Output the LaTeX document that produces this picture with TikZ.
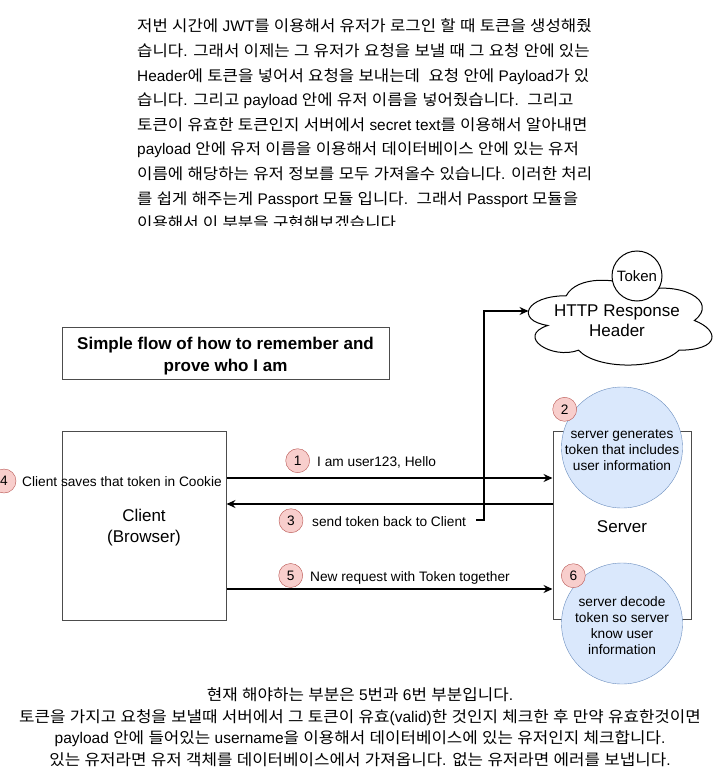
\documentclass[tikz,border=0pt]{standalone}
\usepackage{fontspec}
\setmainfont{Liberation Sans}
\newfontfamily\krfont[FakeStretch=1.085]{Noto Sans CJK KR}
\newfontfamily\latfont{Liberation Sans}
\usetikzlibrary{arrows.meta,calc}
\XeTeXinterchartokenstate=1
\newXeTeXintercharclass\hgclass
\newcount\hgc
\hgc="AC00
\loop \XeTeXcharclass\hgc=\hgclass \advance\hgc by 1 \ifnum\hgc<"D7A4 \repeat
\XeTeXinterchartoks 0 \hgclass = {\krfont}
\XeTeXinterchartoks 4095 \hgclass = {\krfont}
\XeTeXinterchartoks \hgclass 0 = {\latfont}
\XeTeXinterchartoks \hgclass 4095 = {\latfont}
\definecolor{badgefill}{HTML}{F8CECC}
\definecolor{badgeline}{HTML}{B85450}
\definecolor{bluefill}{HTML}{DAE8FC}
\definecolor{blueline}{HTML}{6C8EBF}
\tikzset{
 badge/.style={circle, draw=badgeline, fill=badgefill, minimum size=24pt, inner sep=0pt, font=\fontsize{13.7}{16}\selectfont},
 bluecirc/.style={circle, draw=blueline, fill=bluefill, minimum size=121pt, inner sep=0pt},
 circtext/.style={align=center, inner sep=0pt, font=\fontsize{13.7}{16}\selectfont},
 lbl/.style={anchor=base west, inner sep=0pt, font=\fontsize{13.7}{16}\selectfont},
 box/.style={draw=black!70, line width=1pt, inner sep=0pt},
 bigtext/.style={align=center, inner sep=0pt, font=\fontsize{17}{21}\selectfont},
 arr/.style={-{Stealth[length=9pt,width=8pt,inset=3pt]}, line width=1.5pt},
 topline/.style={anchor=base west, inner sep=0pt, font=\fontsize{15.4}{24}\selectfont},
 botline/.style={anchor=base, inner sep=0pt, font=\fontsize{15.5}{21}\selectfont},
}
\begin{document}
\begin{tikzpicture}[x=1pt,y=-1pt]
\useasboundingbox[fill=white] (0,0) rectangle (721,767);

% top paragraph (clipped at bottom)
\begin{scope}
\clip (0,0) rectangle (721,225);
\node[topline] (t1) at (137,31.9) {저번 시간에 JWT를 이용해서 유저가 로그인 할 때 토큰을 생성해줬};
\node[topline] (t2) at (137,56.5) {습니다. 그래서 이제는 그 유저가 요청을 보낼 때 그 요청 안에 있는};
\node[topline] (t3) at (137,81.1) {Header에 토큰을 넣어서 요청을 보내는데\ \ 요청 안에 Payload가 있};
\node[topline] (t4) at (137,105.7) {습니다. 그리고 payload 안에 유저 이름을 넣어줬습니다.\ \ 그리고};
\node[topline] (t5) at (137,130.3) {토큰이 유효한 토큰인지 서버에서 secret text를 이용해서 알아내면};
\node[topline] (t6) at (137,154.9) {payload 안에 유저 이름을 이용해서 데이터베이스 안에 있는 유저};
\node[topline] (t7) at (137,179.5) {이름에 해당하는 유저 정보를 모두 가져올수 있습니다. 이러한 처리};
\node[topline] (t8) at (137,204.1) {를 쉽게 해주는게 Passport 모듈 입니다.\ \ 그래서 Passport 모듈을};
\node[topline] (t9) at (137,228.7) {이용해서 이 부분을 구현해보겠습니다};
\end{scope}

% cloud
\draw[line width=1pt, fill=white] (566.25,295.75) .. controls (525.25,295.75) and (515,320.5) .. (547.8,325.45)
 .. controls (515,336.34) and (551.9,360.1) .. (578.55,350.2)
 .. controls (597,370) and (658.5,370) .. (679,350.2)
 .. controls (720,350.2) and (720,330.4) .. (694.375,320.5)
 .. controls (720,300.7) and (679,280.9) .. (643.125,290.8)
 .. controls (617.5,275.95) and (576.5,275.95) .. (566.25,295.75) -- cycle;
\node[align=center, inner sep=0pt, font=\fontsize{17}{20}\selectfont] (http) at (617,321) {HTTP Response\\Header};
\node[circle, draw, line width=1pt, fill=white, minimum size=50pt, inner sep=0pt, font=\fontsize{15}{18}\selectfont] (token) at (637,276) {Token};
\coordinate (cloudL) at (528.5,311);

% title
\node[box, minimum width=327pt, minimum height=52pt] (title) at (225.5,353) {};
\node[bigtext, font=\bfseries\fontsize{17}{22}\selectfont] (titletext) at (225.5,356.5) {Simple flow of how to remember and\\prove who I am};

% client and server
\node[box, minimum width=164pt, minimum height=189pt] (client) at (144,525.5) {};
\node[bigtext] (clienttext) at (144,527.5) {Client\\(Browser)};
\node[box, minimum width=138pt, minimum height=188pt] (server) at (622,525) {};
\node[bigtext] (servertext) at (622,527) {Server};
\node[bluecirc] (c2) at (622,447.5) {};
\node[circtext] (c2t) at (622,450.5) {server generates\\token that includes\\user information};
\node[bluecirc] (c6) at (622,623.5) {};
\node[circtext] (c6t) at (622,625.5) {server decode\\token so server\\know user\\information};

% badges
\node[badge] (n1) at (297.7,460.7) {1};
\node[badge] (n2) at (564.7,409.3) {2};
\node[badge] (n3) at (291,520.7) {3};
\node[badge] (n4) at (4,481) {4};
\node[badge] (n5) at (290.7,575.5) {5};
\node[badge] (n6) at (573.3,575.7) {6};

% labels
\node[lbl] (l1) at (317,466) {I am user123, Hello};
\node[lbl] (l3) at (312,526) {send token back to Client};
\node[lbl] (l4) at (22,486) {Client saves that token in Cookie};
\node[lbl] (l5) at (310,581) {New request with Token together};

% arrows
\coordinate (y1) at (0,478);
\coordinate (y3) at (0,504);
\coordinate (y5) at (0,589);
\draw[arr] (client.east |- y1) -- (server.west |- y1);
\draw[arr] (server.west |- y3) -- (client.east |- y3);
\draw[arr] (client.east |- y5) -- (server.west |- y5);
\coordinate (s3) at (476,520);
\draw[arr] (s3) -- (484,520) |- (cloudL);

% bottom paragraph
\node[botline] (b1) at (360,700.5) {현재 해야하는 부분은 5번과 6번 부분입니다.};
\node[botline] (b2) at (360,722) {토큰을 가지고 요청을 보낼때 서버에서 그 토큰이 유효(valid)한 것인지 체크한 후 만약 유효한것이면};
\node[botline] (b3) at (360,743.5) {payload 안에 들어있는 username을 이용해서 데이터베이스에 있는 유저인지 체크합니다.};
\node[botline] (b4) at (360,765) {있는 유저라면 유저 객체를 데이터베이스에서 가져옵니다. 없는 유저라면 에러를 보냅니다.};
\end{tikzpicture}
\end{document}
